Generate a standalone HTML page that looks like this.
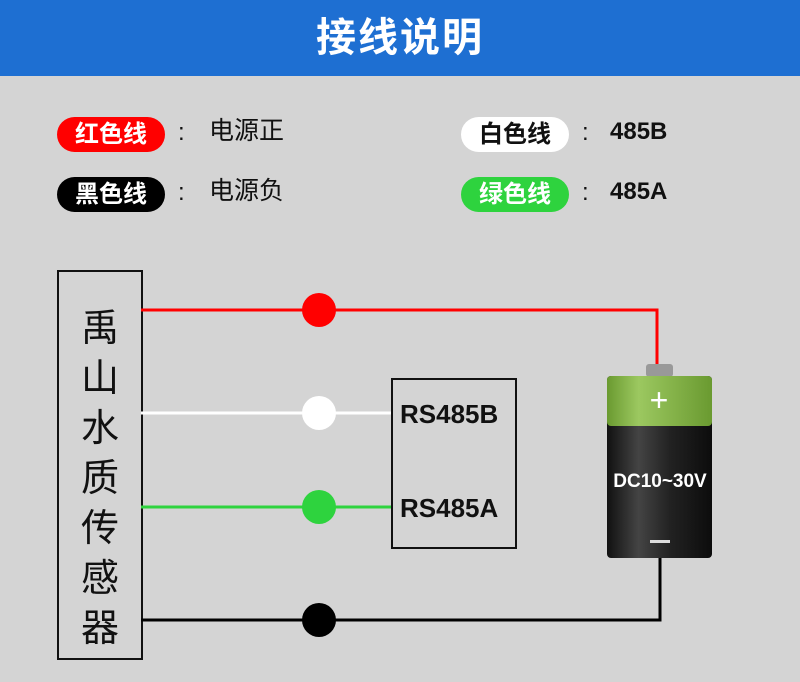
<!DOCTYPE html>
<html><head><meta charset="utf-8"><style>
body{margin:0;width:800px;height:682px;background:#d4d4d4;position:relative;overflow:hidden;font-family:"Liberation Sans","Noto Sans CJK SC",sans-serif}
.hd{position:absolute;left:0;top:0;width:800px;height:76px;background:#1e6fd2;color:#fff;font-size:40px;font-weight:bold;text-align:center;line-height:76px;letter-spacing:2px}
.pill{position:absolute;width:108px;height:35px;border-radius:18px;font-size:24px;font-weight:bold;text-align:center;line-height:35px}
.t{position:absolute;font-size:24px;color:#111;line-height:35px;font-weight:bold}
.c{position:absolute;font-size:24px;color:#111;line-height:35px}
.box{position:absolute;left:57px;top:270px;width:82px;height:386px;border:2px solid #111}
.ch{position:absolute;left:0;width:82px;text-align:center;font-size:38px;color:#111}
</style></head><body>
<div class="hd">接线说明</div>
<div class="pill" style="left:57px;top:117px;background:#f00;color:#fff">红色线</div>
<div class="pill" style="left:57px;top:177px;background:#000;color:#fff">黑色线</div>
<div class="pill" style="left:461px;top:117px;background:#fff;color:#111">白色线</div>
<div class="pill" style="left:461px;top:177px;background:#2ed33e;color:#fff">绿色线</div>
<div class="c" style="left:178px;top:115px">:</div><div class="t" style="left:209px;top:114px;font-weight:normal;font-size:25px">电源正</div>
<div class="c" style="left:178px;top:175px">:</div><div class="t" style="left:209px;top:174px;font-weight:normal;font-size:25px">电源负</div>
<div class="c" style="left:582px;top:115px">:</div><div class="t" style="left:610px;top:114px">485B</div>
<div class="c" style="left:582px;top:175px">:</div><div class="t" style="left:610px;top:174px">485A</div>
<div class="box">
<div class="ch" style="top:25px">禹</div><div class="ch" style="top:75px">山</div><div class="ch" style="top:125px">水</div><div class="ch" style="top:175px">质</div><div class="ch" style="top:225px">传</div><div class="ch" style="top:275px">感</div><div class="ch" style="top:325px">器</div>
</div>
<svg width="800" height="682" style="position:absolute;left:0;top:0">
<defs><linearGradient id="g" x1="0" x2="1"><stop offset="0" stop-color="#111"/><stop offset=".3" stop-color="#444"/><stop offset=".6" stop-color="#222"/><stop offset="1" stop-color="#0c0c0c"/></linearGradient>
<linearGradient id="gg" x1="0" x2="1"><stop offset="0" stop-color="#6a9a30"/><stop offset=".3" stop-color="#9cc860"/><stop offset="1" stop-color="#6a9a30"/></linearGradient></defs>
<polyline points="141,310 657,310 657,366" fill="none" stroke="#f00" stroke-width="3"/>
<line x1="141" y1="413" x2="392" y2="413" stroke="#fff" stroke-width="3"/>
<line x1="141" y1="507" x2="392" y2="507" stroke="#2ed33e" stroke-width="3"/>
<polyline points="141,620 660,620 660,556" fill="none" stroke="#000" stroke-width="3"/>
<circle cx="319" cy="310" r="17" fill="#f00"/>
<circle cx="319" cy="413" r="17" fill="#fff"/>
<circle cx="319" cy="507" r="17" fill="#2ed33e"/>
<circle cx="319" cy="620" r="17" fill="#000"/>
<rect x="392" y="379" width="124" height="169" fill="none" stroke="#111" stroke-width="2"/>
<text x="400" y="423" font-size="26" font-weight="bold" fill="#111" font-family="Liberation Sans">RS485B</text>
<text x="400" y="517" font-size="26" font-weight="bold" fill="#111" font-family="Liberation Sans">RS485A</text>
<rect x="646" y="364" width="27" height="13" rx="3" fill="#999"/>
<rect x="607" y="376" width="105" height="182" rx="4" fill="url(#g)"/>
<rect x="607" y="376" width="105" height="50" rx="4" fill="url(#gg)"/>
<text x="659" y="411" font-size="32" text-anchor="middle" fill="#fff">+</text>
<text x="660" y="487" font-size="19" font-weight="bold" text-anchor="middle" fill="#fff" font-family="Liberation Sans">DC10~30V</text>
<rect x="650" y="540" width="20" height="3" fill="#ddd"/>
</svg>
</body></html>
